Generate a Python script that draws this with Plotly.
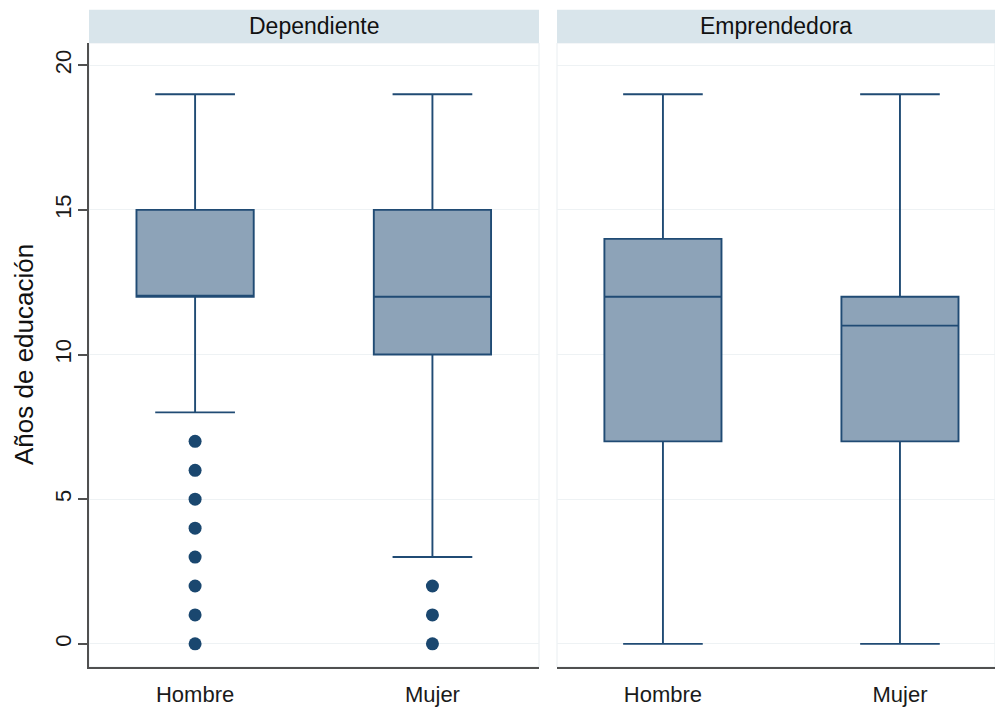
import plotly.graph_objects as go

# Years of schooling by sex, split by employment type
categories = ["Hombre", "Mujer"]
panels = ["Dependiente", "Emprendedora"]

dep_lower = [8, 3]
dep_q1 = [12, 10]
dep_median = [12, 12]
dep_q3 = [15, 15]
dep_upper = [19, 19]

emp_lower = [0, 0]
emp_q1 = [7, 7]
emp_median = [12, 11]
emp_q3 = [14, 12]
emp_upper = [19, 19]

dep_outliers_hombre = [0, 1, 2, 3, 4, 5, 6, 7]
dep_outliers_mujer = [0, 1, 2]

y_ticks = [0, 5, 10, 15, 20]

FONT = "Liberation Sans, Arial, sans-serif"
BOX_FILL = "#8da3b8"
BOX_LINE = "#204b74"
DOT = "#1a476f"
AXIS = "#505050"
GRID = "#eef2f4"
STRIP = "#d9e5eb"

W, H = 995, 707
M_L, M_R, M_T, M_B = 89, 0, 43, 38
plot_w = W - M_L - M_R
plot_h = H - M_T - M_B

left_dom = [0, 450 / plot_w]
right_dom = [468 / plot_w, 1]

fig = go.Figure()

box_style = dict(
    fillcolor=BOX_FILL,
    line=dict(color=BOX_LINE, width=1.9),
    width=0.494,
    whiskerwidth=0.68,
    boxpoints=False,
    showlegend=False,
    hoverinfo="skip",
)

fig.add_trace(go.Box(
    x=categories, q1=dep_q1, median=dep_median, q3=dep_q3,
    lowerfence=dep_lower, upperfence=dep_upper,
    xaxis="x", yaxis="y", **box_style,
))
fig.add_trace(go.Box(
    x=categories, q1=emp_q1, median=emp_median, q3=emp_q3,
    lowerfence=emp_lower, upperfence=emp_upper,
    xaxis="x2", yaxis="y2", **box_style,
))

out_x = [categories[0]] * len(dep_outliers_hombre) + [categories[1]] * len(dep_outliers_mujer)
out_y = dep_outliers_hombre + dep_outliers_mujer
fig.add_trace(go.Scatter(
    x=out_x, y=out_y, mode="markers",
    marker=dict(color=DOT, size=13, line=dict(width=0)),
    xaxis="x", yaxis="y", showlegend=False, hoverinfo="skip",
))

y_range = [-0.80, 20.77]
x_common = dict(
    type="category", categoryorder="array", categoryarray=categories,
    showgrid=False, zeroline=False, ticks="",
    showline=True, linecolor=AXIS, linewidth=1.5,
    tickfont=dict(family=FONT, size=22, color="#1a1a1a"),
    ticklabelstandoff=7,
)

fig.update_layout(
    width=W, height=H,
    margin=dict(l=M_L, r=M_R, t=M_T, b=M_B, pad=0),
    paper_bgcolor="white", plot_bgcolor="white",
    font=dict(family=FONT, color="#1a1a1a"),
    xaxis=dict(domain=left_dom, range=[-0.447, 1.449], anchor="y", **x_common),
    xaxis2=dict(domain=right_dom, range=[-0.447, 1.401], anchor="y2", **x_common),
    yaxis=dict(
        domain=[0, 1], range=y_range, anchor="x",
        tickvals=y_ticks, ticks="outside", ticklen=9, tickwidth=1.5,
        tickcolor=AXIS, tickangle=-90,
        tickfont=dict(family=FONT, size=22, color="#1a1a1a"),
        ticklabelstandoff=-2,
        showline=True, linecolor=AXIS, linewidth=1.5,
        showgrid=True, gridcolor=GRID, gridwidth=1, zeroline=False,
    ),
    yaxis2=dict(
        domain=[0, 1], range=y_range, anchor="x2", matches="y",
        tickvals=y_ticks, showticklabels=False, ticks="",
        showline=False, showgrid=True, gridcolor=GRID, gridwidth=1,
        zeroline=False,
    ),
)

# Light outline around each panel's plotting region
for dom in (left_dom, right_dom):
    fig.add_shape(type="rect", xref="paper", yref="paper",
                  x0=dom[0], x1=dom[1], y0=0, y1=1,
                  line=dict(color="#e9eef1", width=1), layer="below")

# Panel header strips
strip_h = 33.4 / plot_h
for dom, name in zip((left_dom, right_dom), panels):
    fig.add_shape(type="rect", xref="paper", yref="paper",
                  x0=dom[0], x1=dom[1], y0=1, y1=1 + strip_h,
                  fillcolor=STRIP, line=dict(width=0), layer="below")
    fig.add_annotation(text=name, xref="paper", yref="paper",
                       x=(dom[0] + dom[1]) / 2, y=1 + strip_h / 2,
                       xanchor="center", yanchor="middle", showarrow=False,
                       font=dict(family=FONT, size=23, color="#111111"))

# Y-axis title
fig.add_annotation(text="Años de educación", xref="paper", yref="paper",
                   x=(24 - M_L) / plot_w, y=0.5, textangle=-90,
                   xanchor="center", yanchor="middle", showarrow=False,
                   font=dict(family=FONT, size=26, color="#111111"))

fig.write_html("out.html")
